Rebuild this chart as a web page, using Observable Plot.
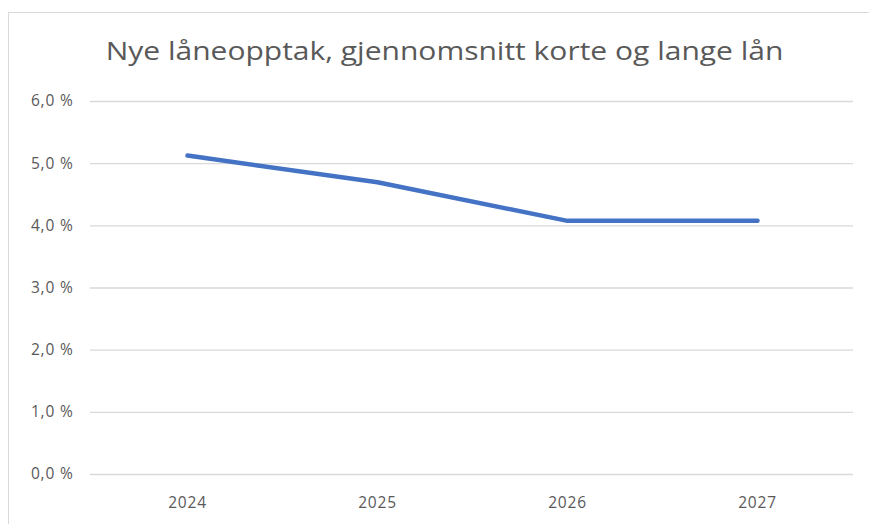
<!DOCTYPE html>
<html>
<head>
<meta charset="utf-8">
<script src="https://cdn.jsdelivr.net/npm/d3@7"></script>
<script src="https://cdn.jsdelivr.net/npm/@observablehq/plot@0.6"></script>
<style>
  html, body { margin: 0; padding: 0; background: #fff; }
  #wrap { position: relative; width: 869px; height: 524px; overflow: hidden; font-family: "Open Sans", sans-serif; }
  #frame { position: absolute; left: 8px; top: 12px; width: 900px; height: 600px; border: 1px solid #d9d9d9; box-sizing: border-box; }
  #title { position: absolute; left: 0; top: 33px; width: 889px; text-align: center; font-size: 25px; line-height: 34px; color: #595959; font-family: "Open Sans", sans-serif; transform: scaleX(1.2); transform-origin: 444.5px 0; }
  #chart { position: absolute; left: 0; top: 0; }
  #chart svg text { letter-spacing: 0.8px; }
</style>
</head>
<body>
<div id="wrap">
  <div id="frame"></div>
  <div id="title">Nye låneopptak, gjennomsnitt korte og lange lån</div>
  <div id="chart"></div>
</div>
<script>
const years = ["2024", "2025", "2026", "2027"];
const rates = [5.13, 4.70, 4.08, 4.08];
const yTicks = [0, 1, 2, 3, 4, 5, 6];

const data = years.map((y, i) => ({year: y, rate: rates[i]}));
const fmt = d => d.toFixed(1).replace(".", ",") + " %";

const plot = Plot.plot({
  width: 869,
  height: 524,
  marginLeft: 90,
  marginRight: 16,
  marginTop: 101,
  marginBottom: 50,
  style: {fontFamily: "'Open Sans', sans-serif", fontSize: "15.5px", color: "#595959", background: "transparent"},
  x: {type: "point", domain: years, padding: 0.5, label: null},
  y: {domain: [0, 6], label: null},
  marks: [
    Plot.ruleY(yTicks, {stroke: "#d9d9d9", strokeWidth: 1.3}),
    Plot.axisY({ticks: yTicks, tickSize: 0, tickPadding: 17, tickFormat: fmt, label: null, fill: "#595959"}),
    Plot.axisX({tickSize: 0, tickPadding: 22, label: null, fill: "#595959"}),
    Plot.line(data, {x: "year", y: "rate", stroke: "#4472C4", strokeWidth: 4.5, strokeLinecap: "round", strokeLinejoin: "round"})
  ]
});
document.getElementById("chart").appendChild(plot);
</script>
</body>
</html>
